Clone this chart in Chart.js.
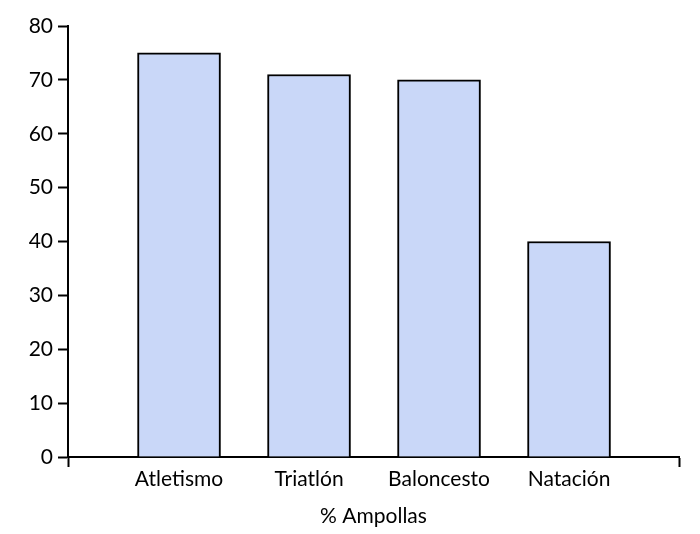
<!DOCTYPE html>
<html>
<head>
<meta charset="utf-8">
<script src="https://cdn.jsdelivr.net/npm/chart.js@4.4.1/dist/chart.umd.min.js"></script>
<style>
  html, body { margin: 0; padding: 0; background: #fff; }
  #wrap { width: 700px; height: 534px; }
</style>
</head>
<body>
<div id="wrap"><canvas id="myChart"></canvas></div>
<script>
const categories = ['Atletismo', 'Triatlón', 'Baloncesto', 'Natación'];
const values = [75, 71, 70, 40];
const yTicks = [0, 10, 20, 30, 40, 50, 60, 70, 80];

const xMin = -0.854;
const xMax = 3.846;
const font = { family: 'Lato, "Open Sans", sans-serif', size: 21 };

const ctx = document.getElementById('myChart');

new Chart(ctx, {
    type: 'bar',
    data: {
        datasets: [{
            label: '% Ampollas',
            data: values.map((v, i) => ({ x: i, y: v })),
            backgroundColor: '#C9D7F8',
            borderColor: 'black',
            borderWidth: 2,
            borderSkipped: 'bottom',
            barThickness: 83
        }]
    },
    options: {
        responsive: true,
        maintainAspectRatio: false,
        animation: false,
        layout: { padding: { top: 26, right: 21, left: 0, bottom: 0 } },
        plugins: {
            legend: { display: false },
            tooltip: { enabled: false }
        },
        scales: {
            x: {
                type: 'linear',
                offset: false,
                min: xMin,
                max: xMax,
                afterBuildTicks: (scale) => {
                    scale.ticks = [{ value: xMin }].concat(categories.map((c, i) => ({ value: i })), [{ value: xMax }]);
                },
                afterFit: (scale) => { scale.height = 77; },
                ticks: {
                    color: 'black',
                    font: font,
                    padding: 0,
                    maxRotation: 0,
                    autoSkip: false,
                    callback: (v) => categories[v] ?? ''
                },
                grid: {
                    drawOnChartArea: false,
                    offset: false,
                    tickLength: 10,
                    tickWidth: 2,
                    tickColor: (c) => (c.index === 0 || c.index === categories.length + 1) ? 'black' : 'rgba(0,0,0,0)'
                },
                border: { display: true, color: 'black', width: 2 },
                title: {
                    display: true,
                    text: '% Ampollas',
                    color: 'black',
                    font: font,
                    padding: { top: 4, bottom: 5 }
                }
            },
            y: {
                min: 0,
                max: 80,
                afterBuildTicks: (scale) => {
                    scale.ticks = yTicks.map(v => ({ value: v }));
                },
                afterFit: (scale) => { scale.width = 68; },
                ticks: {
                    color: 'black',
                    font: font,
                    padding: 5
                },
                grid: {
                    drawOnChartArea: false,
                    tickLength: 10,
                    tickWidth: 2,
                    tickColor: 'black'
                },
                border: { display: true, color: 'black', width: 2 }
            }
        }
    }
});
</script>
</body>
</html>
